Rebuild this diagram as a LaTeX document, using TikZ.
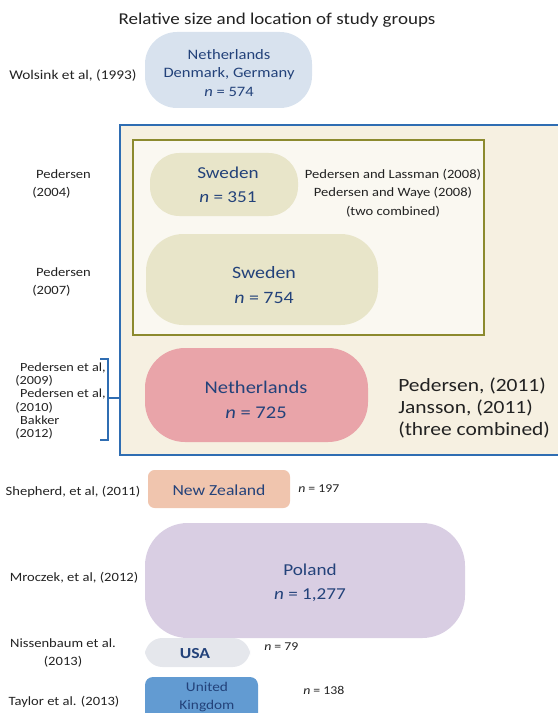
\documentclass[tikz,border=0pt]{standalone}
\usepackage{fontspec}
\setmainfont{Carlito}[FakeStretch=1.15]
\definecolor{cntry}{HTML}{23427A}
\definecolor{refgrey}{HTML}{222222}
\definecolor{frameblue}{HTML}{2F6DB2}
\definecolor{frameolive}{HTML}{8C8A2E}
\definecolor{beige}{HTML}{F6F0E1}
\definecolor{paleolive}{HTML}{FAF8F1}
\definecolor{dnkblue}{HTML}{D8E2EE}
\definecolor{swekhaki}{HTML}{E8E5C9}
\definecolor{nldpink}{HTML}{E9A4A9}
\definecolor{nzlpeach}{HTML}{F0C5AE}
\definecolor{pollilac}{HTML}{D9CEE3}
\definecolor{usagrey}{HTML}{E5E7EC}
\definecolor{gbrblue}{HTML}{629BD2}
\tikzset{
  grp/.style={text=cntry, align=center, inner sep=0pt},
  ref/.style={text=refgrey, inner sep=0pt},
}
\begin{document}
\begin{tikzpicture}[x=0.75pt,y=-0.75pt]
	\useasboundingbox (0,0) rectangle (557,713);
	\node[ref,font=\fontsize{12.4}{14}\selectfont] (title) at (277,20) {Relative size and location of study groups};
	% study groups
	\fill[dnkblue,rounded corners=24pt] (145,32) rectangle (312,108);
	\node[grp,font=\fontsize{10.8}{14}\selectfont] (dnk) at (229,73) {Netherlands\\Denmark, Germany\\\textit{n} = 574};
	\node[ref,font=\fontsize{10}{11}\selectfont] (wolsink) at (73,76) {Wolsink et al, (1993)};
	\filldraw[draw=frameblue,line width=1.3pt,fill=beige] (120,125) rectangle (565,455);
	\filldraw[draw=frameolive,line width=1.3pt,fill=paleolive] (133,140) rectangle (484,335);
	\fill[swekhaki,rounded corners=22pt] (150,153) rectangle (298,216);
	\node[grp,font=\fontsize{12.5}{18}\selectfont] (swea) at (228,185) {Sweden\\\textit{n} = 351};
	\fill[swekhaki,rounded corners=28pt] (146,234) rectangle (378,325);
	\node[grp,font=\fontsize{13}{19}\selectfont] (sweb) at (264,285) {Sweden\\\textit{n} = 754};
	\node[ref,align=center,font=\fontsize{9.5}{14}\selectfont] (lassman) at (393,193) {Pedersen and Lassman (2008)\\Pedersen and Waye (2008)\\(two combined)};
	\node[ref,align=left,font=\fontsize{9.5}{13.5}\selectfont,anchor=west] (ped04) at (32,184) {\hspace*{0.3em}Pedersen\\(2004)};
	\node[ref,align=left,font=\fontsize{9.5}{13.5}\selectfont,anchor=west] (ped07) at (32,282) {\hspace*{0.3em}Pedersen\\(2007)};
	\fill[nldpink,rounded corners=30pt] (145,348) rectangle (368,442);
	\node[grp,font=\fontsize{13.4}{18.5}\selectfont] (nld) at (256,400) {Netherlands\\\textit{n} = 725};
	\node[ref,align=left,font=\fontsize{14}{16.5}\selectfont,anchor=west] (jansson) at (398,408) {Pedersen, (2011)\\Jansson, (2011)\\(three combined)};
	\node[ref,align=left,font=\fontsize{9.3}{10}\selectfont,anchor=west] (ped09) at (15,401) {\hspace*{0.4em}Pedersen et al,\\(2009)\\\hspace*{0.4em}Pedersen et al,\\(2010)\\\hspace*{0.4em}Bakker\\(2012)};
	% bracket
	\coordinate (brkT) at (100,359);
	\coordinate (brkB) at (100,440);
	\coordinate (frameW) at (120,398);
	\draw[frameblue,line width=1pt] (brkT) -- ++(8,0) |- (brkB);
	\draw[frameblue,line width=1pt] (108,398) -- (frameW);
	\fill[nzlpeach,rounded corners=5pt] (148,470) rectangle (290,508);
	\node[grp,font=\fontsize{11.5}{14}\selectfont] (nzl) at (219,490) {New Zealand};
	\node[ref,font=\fontsize{9}{11}\selectfont,anchor=west] (nnzl) at (298,489) {\textit{n} = 197};
	\node[ref,font=\fontsize{9.5}{11}\selectfont] (shepherd) at (73,492) {Shepherd, et al, (2011)};
	\fill[pollilac,rounded corners=32pt] (145,523) rectangle (465,638);
	\node[grp,font=\fontsize{12.5}{18}\selectfont] (pol) at (310,583) {Poland\\\textit{n} = 1,277};
	\node[ref,font=\fontsize{9.5}{11}\selectfont] (mroczek) at (74,578) {Mroczek, et al, (2012)};
	\fill[usagrey,rounded corners=13pt] (145,638) rectangle (250,667);
	\node[grp,font=\bfseries\fontsize{11.5}{14}\selectfont] (usa) at (195,654) {USA};
	\node[ref,font=\fontsize{9}{11}\selectfont,anchor=west] (nusa) at (264,647) {\textit{n} = 79};
	\node[ref,align=center,font=\fontsize{9.5}{14}\selectfont] (nissenbaum) at (63,653) {Nissenbaum et al.\\(2013)};
	\fill[gbrblue,rounded corners=6pt] (145,677) rectangle (258,725);
	\node[grp,font=\fontsize{10}{14}\selectfont] (gbr) at (207,697) {United\\Kingdom};
	\node[ref,font=\fontsize{9}{11}\selectfont,anchor=west] (ngbr) at (303,690) {\textit{n} = 138};
	\node[ref,font=\fontsize{9.5}{11}\selectfont] (taylor) at (64,702) {Taylor et al. (2013)};
\end{tikzpicture}
\end{document}
